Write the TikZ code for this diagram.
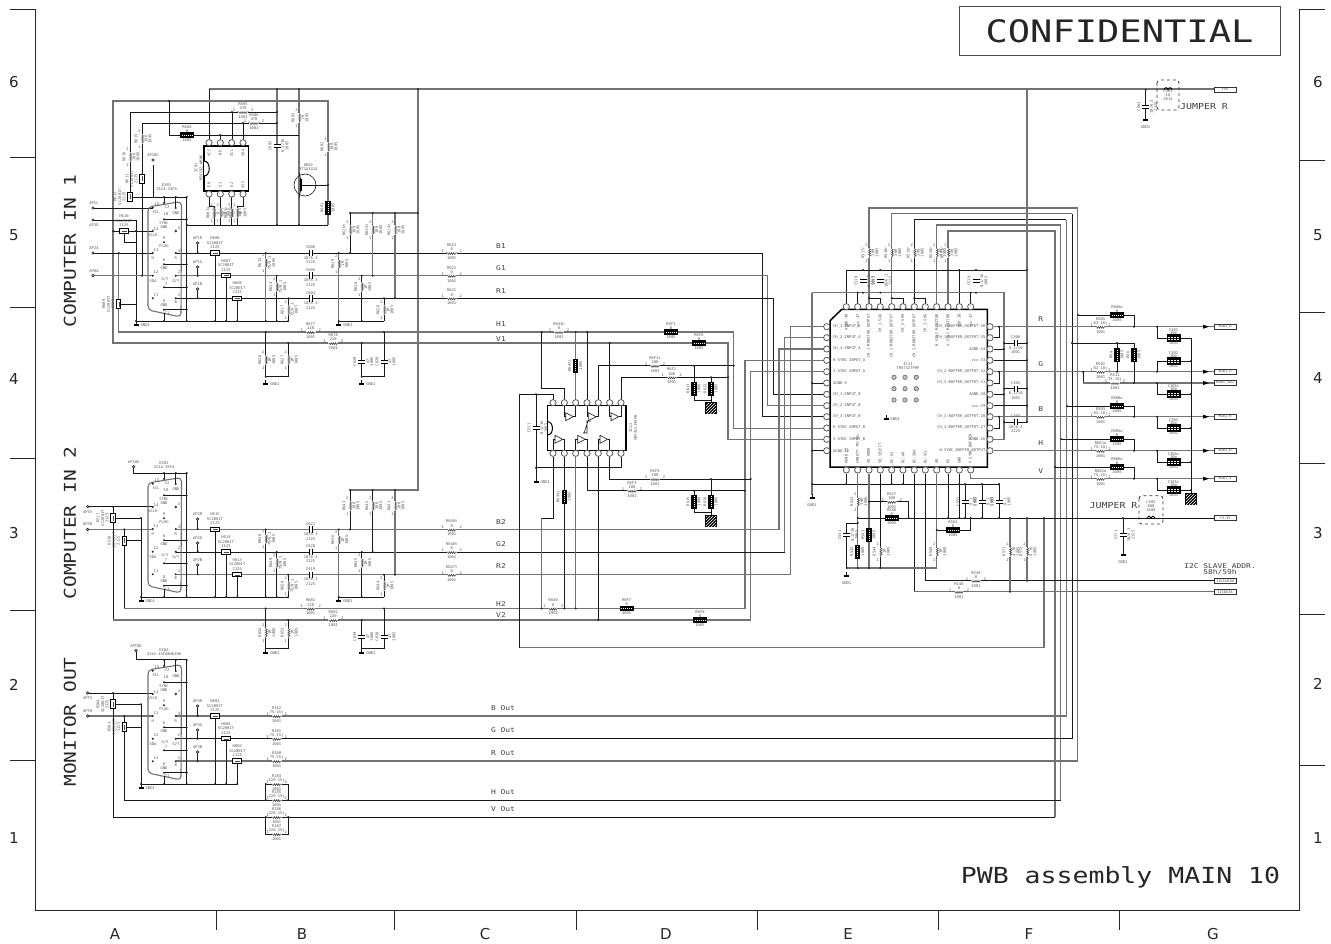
\documentclass[tikz,border=0pt]{standalone}
\usepackage{fontspec}
\setmainfont{DejaVu Sans}
\setmonofont{DejaVu Sans Mono}
\newfontfamily\widemono[FakeStretch=1.2]{DejaVu Sans Mono}
\usetikzlibrary{patterns}
\tikzset{
	wire/.style={black!90,line width=0.6pt},
	gwire/.style={black!55,line width=1.1pt},
	lbl/.style={font=\ttfamily\fontsize{3.8}{4.3}\selectfont,inner sep=0pt,text=black!65,align=center},
	sig/.style={font=\widemono\fontsize{6.6}{7}\selectfont,inner sep=0pt,text=black!75},
	mid/.style={font=\widemono\fontsize{6.6}{6.6}\selectfont,inner sep=0pt,text=black!75,align=center},
	big/.style={font=\widemono\fontsize{16.3}{18}\selectfont,inner sep=0pt,text=black!85},
	grid/.style={font=\fontsize{15}{16}\selectfont,inner sep=0pt,text=black!85},
	frameline/.style={black!85,line width=0.6pt},
	pinc/.style={draw=black!65,line width=0.8pt,fill=white},
	outbox/.style={draw=black!80,line width=0.8pt,fill=white,font=\ttfamily\fontsize{3.6}{4}\selectfont,inner sep=0pt,minimum width=22pt,minimum height=5.5pt,text=black!70}
}
\def\jn(#1,#2){\fill[black!85] (#1,#2) circle (1.1);}
\def\hres(#1,#2)[#3:#4]{
	\fill[white] (#1-5,#2-1.2) rectangle (#1+5,#2+1.6);
	\draw[black!75,line width=0.5pt] (#1-6,#2) -- (#1-4,#2) -- (#1-3,#2+1.6) -- (#1-2,#2-0.4) -- (#1-1,#2+1.6) -- (#1,#2-0.4) -- (#1+1,#2+1.6) -- (#1+2,#2-0.4) -- (#1+3,#2+1.6) -- (#1+4,#2) -- (#1+6,#2);
	\node[lbl] (#3) at (#1,#2-8) {#3};
	\node[lbl] (#3v) at (#1,#2-3.4) {#4};
	\node[lbl] (#3s) at (#1,#2+5) {1001};
	\node[lbl] (#3a) at (#1-9,#2-2) {1};
	\node[lbl] (#3b) at (#1+9,#2-2) {2};
}
\def\vres(#1,#2)[#3:#4]{
	\fill[white] (#1-1.6,#2-5) rectangle (#1+1.2,#2+5);
	\draw[black!75,line width=0.5pt] (#1,#2-6) -- (#1,#2-4) -- (#1+1.6,#2-3) -- (#1-0.4,#2-2) -- (#1+1.6,#2-1) -- (#1-0.4,#2) -- (#1+1.6,#2+1) -- (#1-0.4,#2+2) -- (#1+1.6,#2+3) -- (#1,#2+4) -- (#1,#2+6);
	\node[lbl,rotate=90] (#3) at (#1-6,#2) {#3};
	\node[lbl,rotate=90] (#3v) at (#1+4,#2) {#4};
	\node[lbl,rotate=90] (#3s) at (#1+8,#2) {1005};
	\node[lbl] (#3b) at (#1-2.5,#2-8) {2};
	\node[lbl] (#3a) at (#1-2.5,#2+8) {1};
}
\def\hjmp(#1,#2)[#3]{
	\fill[black] (#1-7,#2-2.7) rectangle (#1+7,#2+2.7);
	\draw[white,line width=0.5pt,dash pattern=on 1pt off 1pt] (#1-5.5,#2) -- (#1+5.5,#2);
	\node[lbl] (#3) at (#1,#2-8) {#3};
	\node[lbl] (#3v) at (#1,#2-4.3) {0};
	\node[lbl] (#3s) at (#1,#2+5) {1005};
}
\def\vjmp(#1,#2)[#3]{
	\fill[black] (#1-2.7,#2-7) rectangle (#1+2.7,#2+7);
	\draw[white,line width=0.5pt,dash pattern=on 1pt off 1pt] (#1,#2-5.5) -- (#1,#2+5.5);
	\node[lbl,rotate=90] (#3) at (#1-6,#2) {#3};
	\node[lbl,rotate=90] (#3s) at (#1+5,#2) {1005};
}
\def\hbd(#1,#2)[#3]{
	\draw[black,fill=white,line width=0.9pt] (#1-4.5,#2-2.2) rectangle (#1+4.5,#2+2.2);
	\draw[black!70,line width=0.4pt] (#1-2.5,#2) -- (#1+2.5,#2);
	\node[lbl] (#3) at (#1,#2-15) {#3};
	\node[lbl] (#3v) at (#1,#2-10.3) {SC2001T};
	\node[lbl] (#3s) at (#1,#2-6) {2125};
}
\def\vbd(#1,#2)[#3]{
	\draw[black,fill=white,line width=0.9pt] (#1-2.2,#2-4.5) rectangle (#1+2.2,#2+4.5);
	\draw[black!70,line width=0.4pt] (#1,#2-2.5) -- (#1,#2+2.5);
	\node[lbl,rotate=90] (#3) at (#1-15,#2) {#3};
	\node[lbl,rotate=90] (#3v) at (#1-10.3,#2) {SC2001T};
	\node[lbl,rotate=90] (#3s) at (#1-6,#2) {2125};
}
\def\hcap(#1,#2)[#3:#4:#5]{
	\fill[white] (#1-1,#2-3) rectangle (#1+1,#2+3);
	\draw[black,line width=0.9pt] (#1-1.3,#2-3.2) -- (#1-1.3,#2+3.2) (#1+1.3,#2-3.2) -- (#1+1.3,#2+3.2);
	\node[lbl] (#3) at (#1,#2-5.5) {#3};
	\node[lbl] (#3v) at (#1,#2+5) {#4};
	\node[lbl] (#3s) at (#1,#2+9.5) {#5};
}
\def\vcap(#1,#2)[#3:#4:#5]{
	\fill[white] (#1-3,#2-1) rectangle (#1+3,#2+1);
	\draw[black,line width=0.9pt] (#1-3.5,#2-1.3) -- (#1+3.5,#2-1.3) (#1-3.5,#2+1.3) -- (#1+3.5,#2+1.3);
	\node[lbl,rotate=90] (#3) at (#1-7,#2) {#3};
	\node[lbl,rotate=90] (#3v) at (#1+6,#2) {#4};
	\node[lbl,rotate=90] (#3s) at (#1+10,#2) {#5};
}
\def\gnd(#1,#2)[#3]{
	\draw[wire] (#1,#2-3) -- (#1,#2);
	\fill[black] (#1-2.5,#2) rectangle (#1+2.5,#2+2.4);
	\node[lbl,anchor=west] (#3) at (#1+4.5,#2+1.5) {GND1};
}
\def\gndb(#1,#2)[#3]{
	\draw[wire] (#1,#2-3) -- (#1,#2);
	\fill[black] (#1-2.5,#2) rectangle (#1+2.5,#2+2.4);
	\node[lbl] (#3) at (#1,#2+8) {GND1};
}
\def\apt(#1,#2)[#3]{
	\draw[wire,fill=white] (#1,#2) circle (1.3);
	\node[lbl] (#3) at (#1,#2-5) {#3};
}
\def\hatchbox(#1,#2){
	\fill[black] (#1-6,#2-6) rectangle (#1+6,#2+6);
	\fill[pattern=north east lines,pattern color=white] (#1-5,#2-5) rectangle (#1+5,#2+5);
}
\def\capchip(#1,#2)[#3:#4]{
	\fill[black] (#1-7,#2-3.6) rectangle (#1+7,#2+3.6);
	\draw[white,line width=0.6pt,dash pattern=on 1.5pt off 1.5pt] (#1-5.5,#2-1.2) -- (#1+5.5,#2-1.2) (#1-5.5,#2+1.2) -- (#1+5.5,#2+1.2);
	\node[lbl] (#3) at (#1,#2-8) {#3};
	\node[lbl] (#3v) at (#1,#2-4.8) {#4};
	\node[lbl] (#3s) at (#1,#2+5) {1001};
}
\def\pinx(#1,#2){\draw[pinc] (#1,#2) circle (3.1);}
\def\pinl(#1)[#2]#3{\pinx(826.7,#1) \node[lbl,anchor=west] (#2) at (833,#1) {#3};}
\def\pinr(#1)[#2]#3{\pinx(990,#1) \node[lbl,anchor=east] (#2) at (985.5,#1) {#3};}
\def\pint(#1)[#2]#3{\pinx(#1,306.7) \node[lbl,rotate=90,anchor=east] (#2) at (#1,314) {#3};}
\def\pinb(#1)[#2]#3{\pinx(#1,470) \node[lbl,rotate=90,anchor=west] (#2) at (#1,464) {#3};}
\def\outarrow(#1)[#2]#3{
	\fill[black] (1203,#1-2) -- (1209,#1) -- (1203,#1+2) -- cycle;
	\node[outbox] (#2) at (1225,#1) {#3};
}
\def\dsub(#1)[#2]{
	\begin{scope}[shift={(0,#1)}]
		\draw[gwire,rounded corners=4] (148,207) -- (181.5,201.5) -- (181,317) -- (148,310) -- cycle;
		\draw[wire] (186.7,197) -- (186.7,321);
		\draw[wire] (164,197) -- (164,203);
		\draw[wire] (175.7,197) -- (175.7,208);
		\draw[wire] (164,219.3) -- (186.7,219.3);
		\draw[wire] (164,264.3) -- (186.7,264.3);
		\draw[wire] (164,287.3) -- (186.7,287.3);
		\draw[wire] (164,309.7) -- (186.7,309.7);
		\draw[wire] (164,313) -- (164,321);
		\draw[wire] (197.7,243) -- (197.7,253);
		\draw[wire] (197.7,267) -- (197.7,275.7);
		\draw[wire] (197.7,289) -- (197.7,298.3);
		\draw[wire] (215,253) -- (215,321);
		\draw[wire] (226,275.7) -- (226,321);
		\draw[wire] (237.3,298.3) -- (237.3,321);
		\jn(164,197) \jn(175.7,197) \jn(186.7,197)
		\jn(164,203) \jn(175.7,208) \jn(152.7,207.7) \jn(164,219.3)
		\jn(152.7,231) \jn(164,242.3) \jn(152.7,253) \jn(175.7,253)
		\jn(164,264.3) \jn(152.7,275.7) \jn(175.7,275.7) \jn(164,287.3)
		\jn(152.7,298.3) \jn(175.7,298.3) \jn(164,309.7) \jn(164,321)
		\jn(186.7,219.3) \jn(186.7,264.3) \jn(186.7,287.3) \jn(186.7,309.7) \jn(186.7,321)
		\jn(197.7,253) \jn(197.7,275.7) \jn(197.7,298.3) \jn(215,321) \jn(226,321) \jn(237.3,321)
		\draw[wire,fill=white] (175.7,231) circle (1);
		\node[lbl] (cs#2) at (157,204) {15};
		\node[lbl] (ct#2) at (167,207) {C2};
		\node[lbl] (cu#2) at (156,212) {SCL};
		\node[lbl] (cv#2) at (176,213) {GND};
		\node[lbl] (cw#2) at (166,214) {10};
		\node[lbl] (cx#2) at (164,225) {SYNC\\GND};
		\node[lbl] (cy#2) at (179,228) {4};
		\node[lbl] (cz#2) at (156,229) {14};
		\node[lbl] (da#2) at (153,235.5) {VCLK};
		\node[lbl] (db#2) at (164,238.5) {9};
		\node[lbl] (dc#2) at (164,246.5) {PLUG};
		\node[lbl] (dd#2) at (156,250) {13};
		\node[lbl] (de#2) at (179,251) {3};
		\node[lbl] (df#2) at (152.7,258) {H};
		\node[lbl] (dg#2) at (175.7,258) {R};
		\node[lbl] (dh#2) at (164,260) {6};
		\node[lbl] (di#2) at (164,268.5) {GND};
		\node[lbl] (dj#2) at (156,272.5) {12};
		\node[lbl] (dk#2) at (179,272.5) {2};
		\node[lbl] (dl#2) at (153,281) {SDA};
		\node[lbl] (dm#2) at (165,279) {G/Y};
		\node[lbl] (dn#2) at (176,281) {G/Y};
		\node[lbl] (do#2) at (166,284) {7};
		\node[lbl] (dp#2) at (156,295) {11};
		\node[lbl] (dq#2) at (179,295) {1};
		\node[lbl] (dr#2) at (175.7,302.5) {B};
		\node[lbl] (ds#2) at (164,301) {8};
		\node[lbl] (dt#2) at (164,305.5) {GND};
		\node[lbl] (du#2) at (167,313) {C1};
		\apt(197.7,243)[AP#2R]
		\apt(197.7,267)[AP#2G]
		\apt(197.7,289)[AP#2B]
	\end{scope}
}
\begin{document}
\begin{tikzpicture}[x=1pt,y=-1pt]
	\useasboundingbox (0,0) rectangle (1331,944);
	\fill[white] (0,0) rectangle (1331,944);
	%%%%% FRAME %%%%%
	\draw[frameline] (10,9) -- (35,9) -- (35,910) -- (1299.5,910) -- (1299.5,9) -- (1325,9);
	\draw[frameline] (10,157) -- (35,157);
	\draw[frameline] (10,307) -- (35,307);
	\draw[frameline] (10,458) -- (35,458);
	\draw[frameline] (10,610) -- (35,610);
	\draw[frameline] (10,760) -- (35,760);
	\draw[frameline] (1299.5,160) -- (1325,160);
	\draw[frameline] (1299.5,312) -- (1325,312);
	\draw[frameline] (1299.5,463) -- (1325,463);
	\draw[frameline] (1299.5,614) -- (1325,614);
	\draw[frameline] (1299.5,765) -- (1325,765);
	\draw[frameline] (216,910) -- (216,930);
	\draw[frameline] (394,910) -- (394,930);
	\draw[frameline] (576,910) -- (576,930);
	\draw[frameline] (757,910) -- (757,930);
	\draw[frameline] (938,910) -- (938,930);
	\draw[frameline] (1119,910) -- (1119,930);
	\node[grid] (l6) at (14,82) {6};
	\node[grid] (l5) at (14,235) {5};
	\node[grid] (l4) at (14,379) {4};
	\node[grid] (l3) at (14,533) {3};
	\node[grid] (l2) at (14,685) {2};
	\node[grid] (l1) at (14,838) {1};
	\node[grid] (r6) at (1318,82) {6};
	\node[grid] (r5) at (1318,235) {5};
	\node[grid] (r4) at (1318,378) {4};
	\node[grid] (r3) at (1318,533) {3};
	\node[grid] (r2) at (1318,684) {2};
	\node[grid] (r1) at (1318,838) {1};
	\node[grid] (ca) at (115,934) {A};
	\node[grid] (cb) at (302,934) {B};
	\node[grid] (cc) at (485,934) {C};
	\node[grid] (cd) at (666,934) {D};
	\node[grid] (ce) at (848,934) {E};
	\node[grid] (cf) at (1029,934) {F};
	\node[grid] (cg) at (1213,934) {G};
	\draw[black!70,line width=0.8pt] (959.3,6.7) rectangle (1280,55);
	\node[font=\widemono\fontsize{30.9}{32}\selectfont,inner sep=0pt,text=black!85] (conf) at (1119.5,31) {CONFIDENTIAL};
	\node[font=\widemono\fontsize{22.1}{24}\selectfont,inner sep=0pt,text=black!85] (pwb) at (1120.5,877) {PWB assembly MAIN 10};
	\node[big,rotate=90] (comp1) at (70,251) {COMPUTER IN 1};
	\node[big,rotate=90] (comp2) at (70,523) {COMPUTER IN 2};
	\node[big,rotate=90] (monout) at (70,722) {MONITOR OUT};
	%%%%% COMPUTER IN 1 %%%%%
	\draw[gwire] (209,89) -- (1214,89);
	\draw[wire] (209,89) -- (209,142);
	\draw[gwire] (277,89) -- (277,225);
	\draw[gwire] (299,89) -- (299,225);
	\draw[gwire] (418,89) -- (418,490) -- (350,490);
	\draw[gwire] (418,213) -- (350,213);
	\draw[gwire] (328,225) -- (328,101) -- (113,101) -- (113,343) -- (728,343) -- (728,439.3) -- (823.5,439.3);
	\draw[gwire] (118.7,253) -- (118.7,332) -- (733.7,332) -- (733.7,428.3) -- (823.5,428.3);
	\draw[wire] (169,101) -- (169,135) -- (299,135);
	\draw[wire] (220.3,135) -- (220.3,142);
	\draw[wire] (130,197) -- (130,112) -- (277,112);
	\draw[wire] (232,112) -- (232,142);
	\draw[wire] (142,275.7) -- (142,123) -- (277,123);
	\draw[wire] (243,123) -- (243,142);
	\draw[wire] (153,165) -- (153,197);
	\draw[wire] (133,197) -- (186.7,197);
	\draw[wire] (187,225) -- (328,225);
	\draw[wire] (93,208) -- (152.7,208);
	\draw[wire] (93,220) -- (136,220) -- (136,321);
	\draw[wire] (113,231) -- (152.7,231);
	\draw[wire] (124,234) -- (124,242) -- (136,242);
	\draw[wire] (118.7,304) -- (136,304);
	\draw[wire] (136,321) -- (288.3,321);
	\draw[wire] (338.7,321) -- (384,321);
	\draw[wire] (93,253) -- (152.7,253);
	\draw[wire] (175.7,253) -- (762,253) -- (762,416.7) -- (823.5,416.7);
	\draw[gwire] (93,275.7) -- (152.7,275.7);
	\draw[gwire] (175.7,275.7) -- (767.7,275.7) -- (767.7,405.7) -- (823.5,405.7);
	\draw[wire,line width=0.8pt] (175.7,298.3) -- (773.3,298.3) -- (773.3,394.3) -- (823.5,394.3);
	\draw[gwire] (265.7,253) -- (265.7,321);
	\draw[wire] (276.7,275.7) -- (276.7,321);
	\draw[wire] (288.3,298.3) -- (288.3,321);
	\draw[gwire] (338.7,253) -- (338.7,321);
	\draw[wire] (350,213) -- (350,253);
	\draw[gwire] (372.7,213) -- (372.7,275.7);
	\draw[gwire] (395,213) -- (395,298.3);
	\draw[wire] (361.7,275.7) -- (361.7,321);
	\draw[wire] (384,298.3) -- (384,321);
	\draw[wire] (209,197) -- (209,206) -- (214,206) -- (214,225);
	\draw[wire] (220.3,197) -- (220.3,225);
	\draw[wire] (231.7,197) -- (231.7,225);
	\draw[wire] (243,197) -- (243,206) -- (237,206) -- (237,225);
	\draw[wire] (265.7,332) -- (265.7,376.7) -- (288.3,376.7) -- (288.3,343);
	\draw[wire] (361.7,343) -- (361.7,376.7) -- (384,376.7) -- (384,332);
	\draw[wire] (299,172) -- (301,181);
	\draw[wire] (299,198) -- (301,189);
	\draw[wire] (301,185) -- (328,185);
	\dsub(0)[1]
	\draw[white,fill=white] (204,146) rectangle (248.7,191);
	\draw[black,line width=1.3pt] (204,146) rectangle (248.7,191);
	\draw[black,fill=white,line width=1pt] (204,161) .. controls (211,161) and (211,176) .. (204,176);
	\pinx(209,142.7) \pinx(220.3,142.7) \pinx(231.7,142.7) \pinx(243,142.7)
	\pinx(209,194) \pinx(220.3,194) \pinx(231.7,194) \pinx(243,194)
	\node[lbl,rotate=90] (vccn) at (209,153) {VCC};
	\node[lbl,rotate=90] (wpn) at (220.3,153) {WP};
	\node[lbl,rotate=90] (scln) at (231.7,153) {SCL};
	\node[lbl,rotate=90] (sdan) at (243,153) {SDA};
	\node[lbl,rotate=90] (ezn) at (209,185) {E0};
	\node[lbl,rotate=90] (eon) at (220.3,185) {E1};
	\node[lbl,rotate=90] (etn) at (231.7,185) {E2};
	\node[lbl,rotate=90] (vssn) at (243,185) {VSS};
	\node[lbl,rotate=90] (u601) at (196,168) {IC01};
	\node[lbl,rotate=90] (u601v) at (201,168) {M24C02-WMN6};
	\hres(243,112)[R605:470]
	\hres(254,123)[R606:470]
	\hjmp(187,135)[R604]
	\vres(299,118)[R603:1M]
	\vres(328,147)[R602:100]
	\vjmp(328,208)[R601]
	\vres(142,139)[R615:10K]
	\vres(130,157)[R616:10K]
	\vbd(142,179)[R611]
	\vbd(130,197)[R612]
	\apt(153,160)[AP10C]
	\node[lbl] (ex01) at (166.7,187) {EX01\\3124-15FA};
	\draw[wire,fill=white] (93,208) circle (1.3);
	\draw[wire,fill=white] (93,220) circle (1.3);
	\draw[wire,fill=white] (93,253) circle (1.3);
	\draw[wire,fill=white] (93,275.7) circle (1.3);
	\node[lbl] (apcl) at (94,203.5) {APCL};
	\node[lbl] (apda) at (94,225) {AP2D};
	\node[lbl] (aph) at (94,248.5) {AP24};
	\node[lbl] (apv) at (94,271) {APDA};
	\hbd(124,231)[H610]
	\vbd(118.7,304)[R609]
	\hbd(215,253)[H608]
	\hbd(226,275.7)[H607]
	\hbd(237.3,298.3)[H606]
	\vres(214,213)[R607a:0]
	\vres(220.3,213)[R607b:0]
	\vres(231.7,213)[R607c:0]
	\vres(237,213)[R607d:0]
	\vcap(277,146)[C602:0.1/16:1005]
	\draw[wire] (305,185) circle (11);
	\draw[black,line width=1.2pt] (301,179) -- (301,191);
	\node[lbl,anchor=west] (q602) at (299,167) {Q602\\BT1A1414};
	\vres(265.7,263)[R613:75/0.1]
	\vres(276.7,287)[R614:75/0.1]
	\vres(288.3,310)[R617:75/0.1]
	\hcap(310.7,253)[C606:10/6.3:2125]
	\hcap(310.7,275.7)[C605:10/6.3:2125]
	\hcap(310.7,298.3)[C604:10/6.3:2125]
	\vres(338.7,264)[R619:1M]
	\vres(361.7,287)[R618:1M]
	\vres(384,310)[R620:1M]
	\vres(350,230)[R616t:100]
	\vres(372.7,230)[R615t:100]
	\vres(395,230)[R614t:100]
	\gnd(136,324)[g1]
	\gnd(338.7,324)[g2]
	\hres(451.7,253)[R623:0]
	\hres(451.7,275.7)[R622:0]
	\hres(451.7,298.3)[R621:0]
	\hres(310.7,332)[R677:220]
	\hres(333.3,343)[R678:220]
	\vres(265.7,360)[R626:1M]
	\vres(288.3,360)[R627:1M]
	\vcap(361.7,361.7)[C629:47:1005]
	\vcap(384,361.7)[C628:47:1005]
	\gnd(265.7,383)[g3]
	\gnd(361.7,383)[g4]
	\node[sig] (b1) at (501,246) {B1};
	\node[sig] (g1n) at (501,268) {G1};
	\node[sig] (r1) at (501,291) {R1};
	\node[sig] (h1) at (501,324) {H1};
	\node[sig] (v1) at (501,339) {V1};
	\jn(277,89) \jn(299,89) \jn(418,89) \jn(169,101) \jn(277,112) \jn(277,123) \jn(232,112) \jn(243,123)
	\jn(220.3,135) \jn(418,213) \jn(350,213) \jn(372.7,213) \jn(395,213) \jn(265.7,253) \jn(338.7,253) \jn(350,253)
	\jn(276.7,275.7) \jn(372.7,275.7) \jn(361.7,275.7) \jn(288.3,298.3) \jn(395,298.3) \jn(384,298.3) \jn(328,185)
	\jn(136,231) \jn(113,231) \jn(136,321) \jn(187,225) \jn(277,225) \jn(299,225) \jn(265.7,321) \jn(276.7,321) \jn(288.3,321)
	\jn(338.7,321) \jn(361.7,321) \jn(265.7,332) \jn(384,332) \jn(288.3,343) \jn(361.7,343) \jn(265.7,376.7) \jn(361.7,376.7) \jn(118.7,253) \jn(142,275.7)
	%%%%% COMPUTER IN 2 %%%%%
	\draw[wire] (133.7,466.7) -- (133.7,473) -- (186.7,473);
	\draw[wire] (87.7,506.7) -- (152.7,506.7);
	\draw[gwire] (87.7,529.5) -- (152.7,529.5);
	\draw[wire] (113,506.7) -- (113,620);
	\draw[wire] (124.3,529.5) -- (124.3,608.5);
	\draw[gwire] (113,620) -- (750.7,620) -- (750.7,371.7) -- (823.5,371.7);
	\draw[gwire] (124.3,608.5) -- (745,608.5) -- (745,360.3) -- (823.5,360.3);
	\draw[wire] (113,518) -- (141,518) -- (141,597);
	\draw[wire] (124.3,540.7) -- (141,540.7);
	\draw[wire] (141,597) -- (288.3,597);
	\draw[wire] (338.7,597) -- (384,597);
	\draw[gwire] (175.7,529.5) -- (779,529.5) -- (779,349) -- (823.5,349);
	\draw[wire] (175.7,552) -- (784.7,552);
	\draw[gwire] (784.7,552) -- (784.7,337.7) -- (823.5,337.7);
	\draw[gwire] (175.7,574.7) -- (790.3,574.7) -- (790.3,326.7) -- (823.5,326.7);
	\draw[wire] (265.7,529.5) -- (265.7,597);
	\draw[wire] (276.7,552) -- (276.7,597);
	\draw[wire] (288.3,574.7) -- (288.3,597);
	\draw[gwire] (338.7,529.5) -- (338.7,597);
	\draw[wire] (350,490) -- (350,529.5);
	\draw[wire] (372.7,490) -- (372.7,552);
	\draw[gwire] (395,490) -- (395,574.7);
	\draw[wire] (361.7,552) -- (361.7,597);
	\draw[wire] (384,574.7) -- (384,597);
	\draw[wire] (265.7,608.5) -- (265.7,648.3) -- (288.3,648.3) -- (288.3,620);
	\draw[wire] (361.7,620) -- (361.7,648.3) -- (384,648.3) -- (384,608.5);
	\dsub(276)[2]
	\apt(133.7,466.7)[AP10G]
	\node[lbl] (ex02) at (164,465) {EX02\\3114-15FA};
	\draw[wire,fill=white] (87.7,506.7) circle (1.3);
	\draw[wire,fill=white] (87.7,529.5) circle (1.3);
	\node[lbl] (ap2v) at (87.7,512) {APSV};
	\node[lbl] (ap2h) at (87.7,524.5) {APSH};
	\vbd(113,518)[R517]
	\vbd(124.3,540.7)[R518]
	\hbd(215,529.5)[H615]
	\hbd(226,552)[H614]
	\hbd(237.3,574.7)[H613]
	\vres(265.7,539)[R648:75/0.1]
	\vres(276.7,563)[R649:75/0.1]
	\vres(288.3,586)[R650:75/0.1]
	\hcap(310.7,529.5)[C621:10/6.3:2125]
	\hcap(310.7,552)[C620:10/6.3:2125]
	\hcap(310.7,574.7)[C619:10/6.3:2125]
	\vres(338.7,540)[R646:1M]
	\vres(361.7,563)[R645:1M]
	\vres(384,586)[R644:1M]
	\vres(350,506)[R643:100]
	\vres(372.7,506)[R642:100]
	\vres(395,506)[R641:100]
	\gnd(141,600)[g5]
	\gnd(338.7,600)[g6]
	\hres(451.7,529.5)[R649t:0]
	\hres(451.7,552)[R648t:0]
	\hres(451.7,574.7)[R647t:0]
	\hres(310.7,608.5)[R681:220]
	\hres(333.3,620)[R682:220]
	\vres(265.7,632.7)[R652:1M]
	\vres(288.3,632.7)[R653:1M]
	\vcap(361.7,636.7)[C639:47:1005]
	\vcap(384,636.7)[C638:47:1005]
	\gnd(265.7,652)[g7]
	\gnd(361.7,652)[g8]
	\node[sig] (b2) at (501,522) {B2};
	\node[sig] (g2n) at (501,544) {G2};
	\node[sig] (r2) at (501,566) {R2};
	\node[sig] (h2) at (501,604) {H2};
	\node[sig] (v2) at (501,615) {V2};
	\jn(113,506.7) \jn(124.3,529.5) \jn(141,518) \jn(141,597) \jn(265.7,529.5) \jn(338.7,529.5) \jn(350,529.5) \jn(276.7,552)
	\jn(372.7,552) \jn(361.7,552) \jn(288.3,574.7) \jn(395,574.7) \jn(384,574.7) \jn(350,490) \jn(372.7,490) \jn(395,490)
	\jn(265.7,597) \jn(276.7,597) \jn(288.3,597) \jn(338.7,597) \jn(361.7,597) \jn(265.7,608.5) \jn(384,608.5) \jn(288.3,620) \jn(361.7,620)
	%%%%% MONITOR OUT %%%%%
	\draw[wire] (136,650.7) -- (136,659.7) -- (186.7,659.7);
	\draw[wire] (87.7,693) -- (152.7,693);
	\draw[gwire] (87.7,716) -- (152.7,716);
	\draw[wire] (113,693) -- (113,817) -- (1055,817);
	\draw[gwire] (1055,817) -- (1055,231) -- (948,231) -- (948,303.5);
	\draw[wire] (124.3,716) -- (124.3,800) -- (1060.7,800);
	\draw[gwire] (1060.7,800) -- (1060.7,225) -- (936.7,225) -- (936.7,303.5);
	\draw[wire] (113,704.3) -- (141,704.3) -- (141,784);
	\draw[wire] (124.3,727) -- (141,727);
	\draw[wire] (141,784) -- (237.3,784);
	\draw[gwire] (175.7,716) -- (1066.3,716) -- (1066.3,219.7);
	\draw[wire] (1066.3,219.7) -- (914.3,219.7) -- (914.3,303.5);
	\draw[wire] (175.7,738.7) -- (1072,738.7) -- (1072,213.7);
	\draw[gwire] (1072,213.7) -- (891.7,213.7) -- (891.7,303.5);
	\draw[gwire] (175.7,761) -- (1077.7,761) -- (1077.7,208) -- (869,208) -- (869,303.5);
	\draw[wire] (265.7,784) rectangle (288.3,800);
	\draw[wire] (265.7,817) rectangle (288.3,834);
	\dsub(463)[3]
	\apt(136,650.7)[APTOD]
	\node[lbl] (ex03) at (164,652) {EX03\\3114-15FA8H6106};
	\draw[wire,fill=white] (87.7,693) circle (1.3);
	\draw[wire,fill=white] (87.7,716) circle (1.3);
	\node[lbl] (ap3v) at (87.7,698.5) {APTV};
	\node[lbl] (ap3h) at (87.7,711) {APTH};
	\vbd(113,704.3)[R584]
	\vbd(124.3,727)[R583]
	\hbd(215,716)[H601]
	\hbd(226,738.7)[H605]
	\hbd(237.3,761)[H602]
	\hres(276.7,716)[R162:75-15j]
	\hres(276.7,738.7)[R161:75-15j]
	\hres(276.7,761)[R160:75-15j]
	\hres(276.7,784)[R184:220-15j]
	\hres(276.7,800)[R185:220-15j]
	\hres(276.7,817)[R186:220-15j]
	\hres(276.7,834)[R187:220-15j]
	\gnd(141,787)[g9]
	\node[sig] (bout) at (503,708) {B Out};
	\node[sig] (gout) at (503,730) {G Out};
	\node[sig] (rout) at (503,753) {R Out};
	\node[sig] (hout) at (503,792) {H Out};
	\node[sig] (vout) at (503,809) {V Out};
	\jn(113,693) \jn(124.3,716) \jn(141,704.3) \jn(141,784) \jn(265.7,784) \jn(288.3,800) \jn(265.7,800) \jn(265.7,817) \jn(288.3,817)
	%%%%% SCHMITT BUFFER %%%%%
	\draw[wire] (541.7,332) -- (541.7,388.7) -- (564.3,388.7) -- (564.3,399.5);
	\draw[gwire] (575.7,332) -- (575.7,399.5);
	\draw[wire] (587,332) -- (587,399.5);
	\draw[wire] (609.7,343) -- (609.7,399.5);
	\draw[wire] (598.3,399.5) -- (598.3,365.7) -- (733.7,365.7);
	\draw[wire] (621,399.5) -- (621,377.3) -- (728,377.3);
	\draw[wire] (694,365.7) -- (694,400) -- (711,400);
	\draw[wire] (711,377.3) -- (711,402);
	\draw[wire] (536,394.3) -- (536,467.7) -- (621,467.7) -- (621,456.5);
	\draw[wire] (553,456.5) -- (553,518.3) -- (541.7,518.3);
	\draw[gwire] (541.7,518.3) -- (541.7,608.5);
	\draw[wire] (564.3,456.5) -- (564.3,608.5);
	\draw[gwire] (575.7,456.5) -- (575.7,608.5);
	\draw[wire] (598.3,456.5) -- (598.3,620);
	\draw[wire] (587,456.5) -- (587,490.7) -- (745,490.7);
	\draw[wire] (609.7,456.5) -- (609.7,479) -- (750.7,479);
	\draw[wire] (694,490.7) -- (694,512) -- (711,512);
	\draw[wire] (711,479) -- (711,515);
	\draw[gwire] (1044,518) -- (1044,647.7) -- (519.3,647.7);
	\draw[wire] (519.3,647.7) -- (519.3,394.3) -- (553,394.3) -- (553,399.5);
	\draw[wire] (536,467.7) -- (536,478);
	\draw[black,fill=white,line width=1.3pt] (547.7,405.7) rectangle (626,450.7);
	\draw[black,fill=white,line width=1pt] (547.7,421.7) .. controls (554,421.7) and (554,435) .. (547.7,435);
	\pinx(553,402.7) \pinx(564.3,402.7) \pinx(575.7,402.7) \pinx(587,402.7) \pinx(598.3,402.7) \pinx(609.7,402.7) \pinx(621,402.7)
	\pinx(553,453.3) \pinx(564.3,453.3) \pinx(575.7,453.3) \pinx(587,453.3) \pinx(598.3,453.3) \pinx(609.7,453.3) \pinx(621,453.3)
	\draw[wire,fill=white] (565.7,412.7) -- (573.3,416.7) -- (565.7,420.7) -- cycle;
	\draw[wire,fill=white] (588.4,412.7) -- (596,416.7) -- (588.4,420.7) -- cycle;
	\draw[wire,fill=white] (611,412.7) -- (618.6,416.7) -- (611,420.7) -- cycle;
	\draw[wire,fill=white] (555,435.3) -- (562.6,439.3) -- (555,443.3) -- cycle;
	\draw[wire,fill=white] (577.7,435.3) -- (585.3,439.3) -- (577.7,443.3) -- cycle;
	\draw[wire,fill=white] (600,435.3) -- (607.6,439.3) -- (600,443.3) -- cycle;
	\draw[wire] (564.3,406) -- (564.3,416.7) -- (565.7,416.7);
	\draw[wire] (573.3,416.7) -- (575.7,416.7) -- (575.7,406);
	\draw[wire] (587,406) -- (587,416.7) -- (588.4,416.7);
	\draw[wire] (596,416.7) -- (598.3,416.7) -- (598.3,406);
	\draw[wire] (609.7,406) -- (609.7,416.7) -- (611,416.7);
	\draw[wire] (618.6,416.7) -- (621,416.7) -- (621,406);
	\draw[wire] (553,450) -- (553,439.3) -- (555,439.3);
	\draw[wire] (562.6,439.3) -- (564.3,439.3) -- (564.3,450);
	\draw[wire] (575.7,450) -- (575.7,439.3) -- (577.7,439.3);
	\draw[wire] (585.3,439.3) -- (587,439.3) -- (587,450);
	\draw[wire] (598.3,450) -- (598.3,439.3) -- (600,439.3);
	\draw[wire] (607.6,439.3) -- (609.7,439.3) -- (609.7,450);
	\draw[wire] (583,433) -- (587,433) -- (587,421) -- (591,421) (584,433) -- (588,421);
	\node[lbl,rotate=90] (ic12) at (630.7,428) {IC12};
	\node[lbl,rotate=90] (ic12v) at (635.5,428) {SN74LS14APW};
	\vcap(536,428)[C511:0.1/16:1005]
	\gnd(536,481)[g10]
	\hres(559,332)[R641h:0]
	\hjmp(671,332)[R6F1]
	\hjmp(699,343)[R6F6]
	\hres(655,365.7)[R6F1r:100]
	\hres(671.7,377.3)[R6F2:100]
	\vjmp(575.7,365.7)[R642j]
	\vjmp(694,388.5)[R6J3]
	\vjmp(711,388.5)[R6J2]
	\hatchbox(711,408)
	\vjmp(564.3,496.7)[R644j]
	\hres(655,479)[R6F4:100]
	\hres(632,490.7)[R6F3:100]
	\vjmp(694,501.7)[R6J5]
	\vjmp(711,501.7)[R6J6]
	\hatchbox(711,521)
	\hres(553.3,608.5)[R640:0]
	\hjmp(626.7,608.5)[R6F7]
	\hjmp(700,620)[R6F8]
	\jn(541.7,332) \jn(575.7,332) \jn(587,332) \jn(609.7,343) \jn(694,365.7) \jn(711,377.3) \jn(733.7,365.7) \jn(728,377.3)
	\jn(536,394.3) \jn(536,467.7) \jn(694,490.7) \jn(711,479) \jn(745,490.7) \jn(750.7,479) \jn(541.7,608.5) \jn(564.3,608.5) \jn(575.7,608.5) \jn(598.3,620)
	%%%%% VIDEO SWITCH %%%%%
	\draw[wire] (846.3,270) -- (1027,270);
	\draw[wire] (846.3,270) -- (846.3,303.5);
	\draw[wire] (959.3,270) -- (959.3,303.5);
	\draw[wire] (857.7,292.7) -- (857.7,303.5);
	\draw[wire] (970.7,292.7) -- (970.7,303.5);
	\draw[wire] (869,298) -- (880.3,298) -- (880.3,303.5);
	\draw[wire] (891.7,298) -- (903,298) -- (903,303.5);
	\draw[wire] (914.3,298) -- (925.3,298) -- (925.3,303.5);
	\draw[gwire] (812,292.7) -- (1004,292.7) -- (1004,439.3) -- (993,439.3);
	\draw[gwire] (812,292.7) -- (812,495);
	\draw[wire] (812,383) -- (823.5,383);
	\draw[wire] (812,450.7) -- (823.5,450.7);
	\draw[gwire] (1027,89) -- (1027,422);
	\draw[gwire] (993.5,326.7) -- (1214,326.7);
	\draw[wire] (993.5,337.7) -- (999,337.7) -- (999,326.7);
	\draw[wire] (993.5,349) -- (1004,349);
	\draw[wire] (993.5,394.3) -- (1004,394.3);
	\draw[wire] (993.5,360.3) -- (1027,360.3);
	\draw[wire] (993.5,405.7) -- (1027,405.7);
	\draw[gwire] (993.5,371.7) -- (1214,371.7);
	\draw[wire] (993.5,383) -- (999,383) -- (999,371.7);
	\draw[gwire] (993.5,416.7) -- (1214,416.7);
	\draw[wire] (993.5,428) -- (999,428) -- (999,416.7);
	\draw[gwire] (993.5,450.7) -- (1214,450.7);
	\draw[gwire] (970.7,473.5) -- (970.7,478.7) -- (1214,478.7);
	\draw[wire] (1004,343) -- (1027,343);
	\draw[wire] (1004,388.7) -- (1027,388.7);
	\draw[wire] (1004,422) -- (1027,422);
	\draw[wire] (886,377.3) -- (886,415);
	\draw[wire] (886,377.3) -- (894,377.3);
	\draw[wire] (886,388.7) -- (905,388.7);
	\draw[wire] (886,400) -- (905,400);
	\draw[wire] (897,377.3) -- (897,411.7);
	\draw[wire] (908,377.3) -- (908,411.7);
	\draw[wire] (886,411.7) -- (908,411.7);
	\draw[wire] (812,484) -- (999,484);
	\draw[wire] (846.3,473.5) -- (846.3,484);
	\draw[wire] (891.7,473.5) -- (891.7,484);
	\draw[wire] (903,473.5) -- (903,484);
	\draw[wire] (948,473.5) -- (948,518);
	\draw[wire] (959.3,473.5) -- (959.3,518);
	\draw[gwire] (857.7,473.5) -- (857.7,568);
	\draw[gwire] (869,473.5) -- (869,568);
	\draw[wire] (880.3,473.5) -- (880.3,568);
	\draw[wire] (914.3,473.5) -- (914.3,591.7);
	\draw[gwire] (914.3,591.7) -- (1214,591.7);
	\draw[wire] (925.3,473.5) -- (925.3,580.7) -- (1214,580.7);
	\draw[gwire] (936.7,473.5) -- (936.7,568);
	\draw[wire] (846.7,523) -- (857.7,523);
	\draw[wire] (846.7,523) -- (846.7,568);
	\draw[gwire] (846.7,568) -- (936.7,568);
	\draw[wire] (857.7,518) -- (1214,518);
	\draw[wire] (869,501.7) -- (908.7,501.7) -- (908.7,518);
	\draw[wire] (936.7,530) -- (970.7,530) -- (970.7,518);
	\draw[wire] (965,484) -- (965,518);
	\draw[wire] (982,484) -- (982,518);
	\draw[wire] (999,484) -- (999,518);
	\draw[gwire] (1010,518) -- (1010,591.7);
	\draw[gwire] (1027,518) -- (1027,580.7);
	\draw[black,fill=white,line width=1.5pt] (841.7,309.3) -- (987.3,309.3) -- (987.3,467) -- (830,467) -- (830,320.7) -- cycle;
	\pinl(326.7)[p1]{CH\_1-INPUT\_A}
	\pinl(337.7)[p2]{CH\_2-INPUT\_A}
	\pinl(349)[p3]{CH\_3-INPUT\_A}
	\pinl(360.3)[p4]{H-SYNC-INPUT\_A}
	\pinl(371.7)[p5]{V-SYNC-INPUT\_A}
	\pinl(383)[p6]{AGND-6}
	\pinl(394.3)[p7]{CH\_1-INPUT\_B}
	\pinl(405.7)[p8]{CH\_2-INPUT\_B}
	\pinl(416.7)[p9]{CH\_3-INPUT\_B}
	\pinl(428)[p10]{H-SYNC-INPUT\_B}
	\pinl(439.3)[p11]{V-SYNC-INPUT\_B}
	\pinl(450.7)[p12]{AGND-12}
	\pinb(846.3)[p13]{AGND-13}
	\pinb(857.7)[p14]{CHNUTT-TR/SEL}
	\pinb(869)[p15]{SD\_ADDR}
	\pinb(880.3)[p16]{SD\_SELECT}
	\pinb(891.7)[p17]{DC-A1}
	\pinb(903)[p18]{DC-A0}
	\pinb(914.3)[p19]{DC-SDA}
	\pinb(925.3)[p20]{DC-SCL}
	\pinb(936.7)[p21]{OE}
	\pinb(948)[p22]{RS}
	\pinb(959.3)[p23]{GND}
	\pinb(970.7)[p24]{V-SYNC\_BUFFER}
	\pinr(450.7)[p25]{H-SYNC\_BUFFER\_OUTPUT}
	\pinr(439.3)[p26]{AGND-26}
	\pinr(428)[p27]{CH\_3-BUFFER\_OUTPUT-27}
	\pinr(416.7)[p28]{CH\_3-BUFFER\_OUTPUT-28}
	\pinr(405.7)[p29]{vcc-29}
	\pinr(394.3)[p30]{AGND-30}
	\pinr(383)[p31]{CH\_2-BUFFER\_OUTPUT-31}
	\pinr(371.7)[p32]{CH\_2-BUFFER\_OUTPUT-32}
	\pinr(360.3)[p33]{vcc-33}
	\pinr(349)[p34]{AGND-34}
	\pinr(337.7)[p35]{CH\_1-BUFFER\_OUTPUT-35}
	\pinr(326.7)[p36]{CH\_1-BUFFER\_OUTPUT-36}
	\pint(970.7)[p37]{vcc-37}
	\pint(959.3)[p38]{VDD-38}
	\pint(948)[p39]{V-SYNC-MONITOR}
	\pint(936.7)[p40]{H-SYNC-MONITOR}
	\pint(925.3)[p41]{CH\_3-SAG}
	\pint(914.3)[p42]{CH\_3-MONITOR\_OUTPUT}
	\pint(903)[p43]{CH\_2-SAG}
	\pint(891.7)[p44]{CH\_2-MONITOR\_OUTPUT}
	\pint(880.3)[p45]{CH\_1-SAG}
	\pint(869)[p46]{CH\_1-MONITOR\_OUTPUT}
	\pint(857.7)[p47]{vcc-47}
	\pint(846.3)[p48]{AGND-48}
	\node[lbl] (ic21) at (908,366) {IC21\\THS7327PHP};
	\draw[pinc,line width=0.6pt,black!60,fill=black!25] (894,377.3) circle (2.2);
	\draw[pinc,line width=0.6pt,black!60,fill=black!25] (905,377.3) circle (2.2);
	\draw[pinc,line width=0.6pt,black!60,fill=black!25] (916.3,377.3) circle (2.2);
	\draw[pinc,line width=0.6pt,black!60,fill=black!25] (894,388.7) circle (2.2);
	\draw[pinc,line width=0.6pt,black!60,fill=black!25] (905,388.7) circle (2.2);
	\draw[pinc,line width=0.6pt,black!60,fill=black!25] (916.3,388.7) circle (2.2);
	\draw[pinc,line width=0.6pt,black!60,fill=black!25] (894,400) circle (2.2);
	\draw[pinc,line width=0.6pt,black!60,fill=black!25] (905,400) circle (2.2);
	\draw[pinc,line width=0.6pt,black!60,fill=black!25] (916.3,400) circle (2.2);
	\gnd(886,418)[g11]
	\gndb(812,497)[g12]
	\gndb(846.7,575)[g13]
	\vres(869,252.7)[R517r:300]
	\vres(891.7,252.7)[R518r:300]
	\vres(914.3,252.7)[R519r:300]
	\vres(936.7,252.7)[R520r:300]
	\vres(948,252.7)[R521r:300]
	\vcap(863,281)[C518:0.1/16:1005]
	\vcap(880.3,281)[C517:10/6.3:2125]
	\vcap(976,281)[C519:0.1/16:1005]
	\hcap(1015.7,343)[C306:0.1/10:1001]
	\hcap(1015.7,388.7)[C305:0.1/10:1001]
	\hcap(1015.7,422)[C304:10/6.3:2125]
	\vres(857.7,501.7)[R541:10K]
	\vjmp(857.7,551.7)[R542]
	\vjmp(869,535)[R543]
	\vres(880.3,551.7)[R544:1M]
	\vres(936.7,551.7)[R545:1M]
	\vcap(846.7,535)[C531:0.1/16:1005]
	\hres(891.7,501.7)[R547:100]
	\hjmp(891.7,518)[R546]
	\hjmp(953,530)[R561]
	\vcap(965,501.7)[C551:0.1:1005]
	\vcap(982,501.7)[C552:0.1:1005]
	\vcap(999,501.7)[C553:0.1:1005]
	\vres(1010,551.7)[R571:4.7K]
	\vres(1027,551.7)[R572:4.7K]
	\hres(959,591.7)[R548:0]
	\hres(976,580.7)[R549:0]
	\node[sig] (rn) at (1040.7,319) {R};
	\node[sig] (gn) at (1040.7,364) {G};
	\node[sig] (bn) at (1040.7,409) {B};
	\node[sig] (hn) at (1040.7,443) {H};
	\node[sig] (vn) at (1040.7,471) {V};
	\jn(857.7,292.7) \jn(869,298) \jn(891.7,298) \jn(914.3,298) \jn(863,270) \jn(880.3,270) \jn(959.3,270) \jn(976,270) \jn(1027,270) \jn(863,292.7) \jn(880.3,292.7) \jn(970.7,292.7) \jn(976,292.7)
	\jn(812,383) \jn(812,450.7) \jn(812,484) \jn(1004,343) \jn(1027,343) \jn(1004,349) \jn(1027,360.3) \jn(1004,388.7) \jn(1027,388.7) \jn(1004,394.3) \jn(1027,405.7) \jn(1004,422) \jn(1027,422) \jn(999,326.7) \jn(999,371.7) \jn(999,416.7)
	\jn(846.3,484) \jn(891.7,484) \jn(903,484) \jn(959.3,484) \jn(965,484) \jn(982,484) \jn(999,484) \jn(857.7,518) \jn(857.7,523) \jn(869,501.7) \jn(908.7,518) \jn(948,518) \jn(959.3,518) \jn(965,518) \jn(970.7,518) \jn(982,518) \jn(999,518) \jn(936.7,530)
	\jn(1010,518) \jn(1027,518) \jn(1044,518) \jn(846.7,568) \jn(857.7,568) \jn(869,568) \jn(880.3,568) \jn(1027,580.7) \jn(1010,591.7)
	%%%%% OUTPUTS %%%%%
	\draw[wire] (1078,315) -- (1134,315) -- (1134,326.7);
	\draw[wire] (1072,343) -- (1134,343) -- (1134,383);
	\draw[wire] (1117,343) -- (1117,371.7);
	\draw[wire] (1067,406) -- (1134,406) -- (1134,416.7);
	\draw[wire] (1061,439) -- (1134,439) -- (1134,450.7);
	\draw[wire] (1055,467) -- (1134,467) -- (1134,478.7);
	\draw[wire] (1083,371.7) -- (1083,383);
	\draw[gwire] (1083,383) -- (1214,383);
	\draw[wire] (1157,326.7) -- (1157,338) -- (1191,338) -- (1191,493);
	\draw[wire] (1157,371.7) -- (1157,361) -- (1191,361);
	\draw[wire] (1157,383) -- (1157,394) -- (1191,394);
	\draw[wire] (1157,416.7) -- (1157,428) -- (1191,428);
	\draw[wire] (1157,450.7) -- (1157,462) -- (1191,462);
	\draw[wire] (1157,478.7) -- (1157,490) -- (1191,490);
	\hjmp(1117,315)[R604o]
	\vjmp(1117,355)[R6a]
	\vjmp(1134,355)[R6b]
	\hjmp(1117,406)[R608o]
	\hjmp(1117,439)[R605o]
	\hjmp(1117,467)[R606o]
	\hres(1100.6,326.7)[R501:82-18j]
	\hres(1100.6,371.7)[R502:82-18j]
	\hres(1115,383)[R512:75-18j]
	\hres(1100.6,416.7)[R503:82-18j]
	\hres(1100.6,450.7)[R601o:75-18j]
	\hres(1100.6,478.7)[R602o:75-18j]
	\capchip(1173.5,338)[C301:10p]
	\capchip(1173.5,361)[C302:10p]
	\capchip(1173.5,394)[C306c:10p]
	\capchip(1173.5,428)[C303:10p]
	\capchip(1173.5,462)[C304c:10p]
	\capchip(1173.5,490)[C305c:10p]
	\hatchbox(1191,499)
	\outarrow(326.7)[o1]{RGB1\_R}
	\outarrow(371.7)[o2]{RGB1\_G}
	\outarrow(383)[o3]{RGB1\_SOG}
	\outarrow(416.7)[o4]{RGB1\_B}
	\outarrow(450.7)[o5]{RGB1\_H}
	\outarrow(478.7)[o6]{RGB1\_V}
	\node[outbox] (o7) at (1225,518) {+3.3V};
	\node[outbox] (o8) at (1225,580.7) {I2CCLK1N};
	\node[outbox] (o9) at (1225,591.7) {I2CDATA};
	\node[outbox] (o10) at (1225,89.7) {+5V};
	\node[mid] (i2c) at (1220,569.5) {I2C SLAVE ADDR.\\58h/59h};
	\node[font=\widemono\fontsize{8.3}{8}\selectfont,inner sep=0pt,text=black!75] (jmpb) at (1113.5,505.7) {JUMPER R};
	\node[font=\widemono\fontsize{8.3}{8}\selectfont,inner sep=0pt,text=black!75] (jmpt) at (1204,106.7) {JUMPER R};
	\draw[wire] (1123,518) -- (1123,551);
	\vcap(1123,535)[C571:10/6.3:2125]
	\gndb(1123,554)[g14]
	\draw[wire] (1145.7,89.7) -- (1145.7,116);
	\vcap(1145.7,106.7)[C561:10/6.3:2125]
	\gndb(1145.7,119)[g15]
	\draw[black!80,line width=0.8pt,dashed,rounded corners=3] (1157,80) rectangle (1179,110);
	\draw[black!80,line width=0.8pt,dashed,rounded corners=3] (1139,495.7) rectangle (1163,524);
	\draw[black,line width=0.9pt] (1164,89.7) .. controls (1165,87) and (1167,87) .. (1168,89.7) .. controls (1169,87) and (1171,87) .. (1172,89.7);
	\draw[black,line width=0.9pt] (1147,518) .. controls (1148,515.5) and (1150,515.5) .. (1151,518) .. controls (1152,515.5) and (1154,515.5) .. (1155,518);
	\node[lbl] (l501) at (1168,95) {L501\\10\\2012};
	\node[lbl] (l502) at (1151,506) {L502\\600\\1608};
	\jn(1145.7,89.7) \jn(1123,518) \jn(1078,315) \jn(1072,343) \jn(1083,371.7) \jn(1067,406) \jn(1061,439) \jn(1055,467)
	\jn(1117,343) \jn(1117,371.7) \jn(1134,326.7) \jn(1134,383) \jn(1134,416.7) \jn(1134,450.7) \jn(1134,478.7)
	\jn(1157,326.7) \jn(1157,371.7) \jn(1157,383) \jn(1157,416.7) \jn(1157,450.7) \jn(1157,478.7)
	\jn(1191,361) \jn(1191,394) \jn(1191,428) \jn(1191,462) \jn(1191,490)
\end{tikzpicture}
\end{document}
